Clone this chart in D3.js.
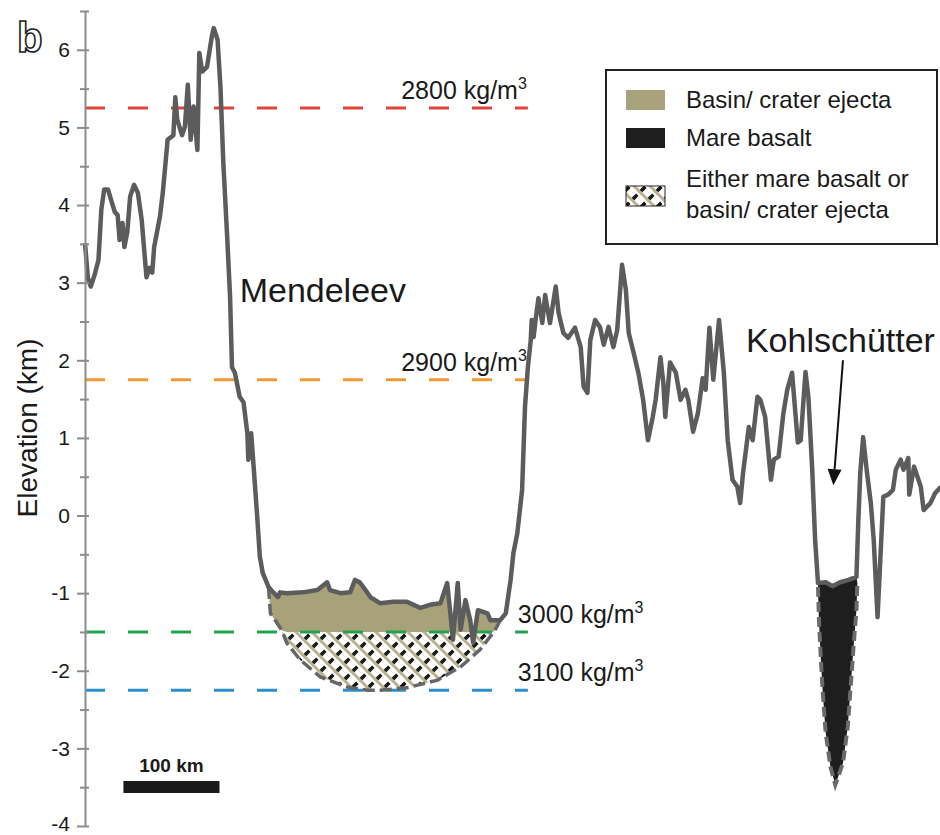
<!DOCTYPE html>
<html>
<head>
<meta charset="utf-8">
<script src="https://cdn.jsdelivr.net/npm/d3@7"></script>
<style>
  body { margin: 0; background: #fff; }
  svg { display: block; }
  text { font-family: "Liberation Sans", Arial, sans-serif; fill: #1a1a1a; }
</style>
</head>
<body>
<svg id="chart" width="940" height="835"></svg>
<script>
// profile along the track: distance (km) and elevation (km)
const distKm = [0,3,6,10,14,17,20,24,28,31,34,36,39,41,44,47,51,55,59,64,67,70,72,78,81,86,92,94,96,101,104,107,110,113,117,119,122,127,132,134,138,141,144,148,151,153,156,161,165,169,170,173,175,179,182,185,191,196,201,203,210,227,242,252,255,266,276,281,286,292,297,307,321,335,349,359,370,377,380,383,388,391,396,401,404,409,419,422,432,438,443,446,450,455,458,461,464,465,467,469,472,476,479,484,490,493,498,503,510,516,519,523,526,531,536,540,545,550,554,559,563,566,571,576,581,586,591,594,599,602,604,609,615,620,625,628,633,638,643,646,650,654,660,665,669,674,679,682,685,691,695,700,703,708,714,717,722,727,731,736,742,745,750,753,757,760,763,771,778,786,795,803,805,807,810,814,818,821,825,828,831,836,841,844,849,852,857,858,863,870,873,880,885,891];
const elevKm = [3.51,3.06,2.95,3.10,3.29,3.94,4.20,4.20,4.03,3.91,3.87,3.55,3.77,3.46,3.65,4.11,4.26,4.16,3.81,3.07,3.19,3.13,3.46,3.85,4.16,4.84,4.90,5.39,5.10,4.90,5.01,5.55,4.84,5.27,4.71,5.96,5.72,5.78,6.17,6.28,6.13,5.52,4.54,3.59,2.82,1.91,1.84,1.53,1.46,1.06,0.72,1.06,0.72,0.03,-0.53,-0.74,-0.92,-0.99,-1.05,-0.99,-1.00,-0.99,-0.96,-0.86,-0.96,-1.00,-0.99,-0.83,-0.86,-0.96,-1.05,-1.13,-1.11,-1.11,-1.19,-1.15,-1.13,-0.87,-1.22,-1.60,-0.87,-1.47,-1.09,-1.35,-1.64,-1.22,-1.26,-1.35,-1.35,-1.26,-0.83,-0.48,-0.23,0.33,1.40,1.91,2.26,2.52,2.30,2.52,2.80,2.48,2.84,2.48,2.95,2.61,2.35,2.29,2.42,2.17,1.66,1.58,2.26,2.52,2.43,2.20,2.43,2.17,2.39,3.23,2.91,2.35,2.10,1.84,1.49,0.97,1.27,1.49,2.04,1.71,1.27,1.97,1.84,1.49,1.62,1.49,1.08,1.32,1.77,1.62,2.42,1.75,2.52,1.84,0.97,0.46,0.37,0.16,0.55,1.14,0.97,1.53,1.49,1.27,0.46,0.72,0.76,1.32,1.62,1.84,0.94,0.97,1.85,1.53,0.59,-0.31,-0.87,-0.86,-0.91,-0.86,-0.83,-0.79,-0.06,0.55,1.01,0.55,0.16,-0.31,-1.31,-0.53,0.24,0.27,0.33,0.59,0.72,0.59,0.74,0.27,0.63,0.37,0.07,0.16,0.29,0.37];

// base of the Mendeleev infill (dashed outline)
const mendBaseDist = [191,193,205,210,224,245,273,294,307,335,367,391,411,425,429,432];
const mendBaseElev = [-0.92,-1.26,-1.48,-1.64,-1.86,-2.08,-2.21,-2.25,-2.25,-2.22,-2.12,-1.95,-1.73,-1.51,-1.43,-1.35];

// base of the Kohlschutter mare basalt
const kohlBaseDist = [763,764,766,768,771,776,781,789,794,797,800,803,804];
const kohlBaseElev = [-0.92,-1.35,-1.86,-2.29,-2.80,-3.24,-3.47,-3.19,-2.72,-2.21,-1.69,-1.22,-0.87];

// density levels
const densityLevels = [5.25, 1.75, -1.5, -2.25];
const densityNames = ["2800", "2900", "3000", "3100"];
const densityColors = ["#e2433a", "#f09a34", "#22a24c", "#2c8fcd"];
const densityEnd = 461;
const ejectaTop = -1.5;

const yMajor = [-4, -3, -2, -1, 0, 1, 2, 3, 4, 5, 6];
const yMinor = [-3.5, -2.5, -1.5, -0.5, 0.5, 1.5, 2.5, 3.5, 4.5, 5.5, 6.5];

const legendLabels = [["Basin/ crater ejecta"], ["Mare basalt"], ["Either mare basalt or", "basin/ crater ejecta"]];

const khaki = "#a8a27a";
const hatchKhaki = "#b7b291";
const basalt = "#1e1e1e";
const profileColor = "#5c5c5c";

const svg = d3.select("#chart");
const x = d3.scaleLinear().domain([0, 890]).range([85, 940]);
const y = d3.scaleLinear().domain([-4, 6.5]).range([826, 11]);

const profile = distKm.map((d, i) => [d, elevKm[i]]);
const mendBase = mendBaseDist.map((d, i) => [d, mendBaseElev[i]]);
const kohlBase = kohlBaseDist.map((d, i) => [d, kohlBaseElev[i]]);

const line = d3.line().x(d => x(d[0])).y(d => y(d[1]));

// hatch pattern
const defs = svg.append("defs");
const pat = defs.append("pattern")
  .attr("id", "hatch")
  .attr("patternUnits", "userSpaceOnUse")
  .attr("width", 16).attr("height", 16);
pat.append("rect").attr("width", 16).attr("height", 16).attr("fill", "#fff");
pat.append("path")
  .attr("d", "M-4,4L4,-4M0,16L16,0M12,20L20,12")
  .attr("stroke", "#111").attr("stroke-width", 3.5)
  .attr("stroke-dasharray", "7.5,3.8");
pat.append("path")
  .attr("d", "M-4,12L4,20M0,0L16,16M12,-4L20,4")
  .attr("stroke", hatchKhaki).attr("stroke-width", 3);

// Mendeleev: ejecta fill
const floor = profile.filter(p => p[0] >= mendBaseDist[0] && p[0] <= mendBaseDist[mendBaseDist.length - 1]);
const ejectaPoly = floor.concat(mendBase.slice().reverse().map(p => [p[0], Math.max(p[1], ejectaTop)]));
svg.append("path")
  .attr("d", line(ejectaPoly) + "Z")
  .attr("fill", khaki);

// Mendeleev: uncertain zone
svg.append("path")
  .datum(mendBase)
  .attr("d", d3.area()
    .x(d => x(d[0]))
    .y0(y(ejectaTop))
    .y1(d => y(Math.min(d[1], ejectaTop))))
  .attr("fill", "url(#hatch)");

// Kohlschutter: mare basalt fill
const kFloor = profile.filter(p => p[0] >= kohlBaseDist[0] && p[0] <= kohlBaseDist[kohlBaseDist.length - 1]);
svg.append("path")
  .attr("d", line(kFloor.concat(kohlBase.slice().reverse())) + "Z")
  .attr("fill", basalt);

// density lines
densityLevels.forEach((lev, i) => {
  svg.append("line")
    .attr("x1", x(0)).attr("x2", x(densityEnd))
    .attr("y1", y(lev)).attr("y2", y(lev))
    .attr("stroke", densityColors[i])
    .attr("stroke-width", 3)
    .attr("stroke-dasharray", "20,23");

  const t = svg.append("text")
    .attr("font-size", 25)
    .attr("y", y(lev) - 9);
  if (i < 2) {
    t.attr("x", x(densityEnd) - 1).attr("text-anchor", "end");
  } else {
    t.attr("x", x(densityEnd) - 10);
  }
  t.append("tspan").text(densityNames[i] + " kg/m");
  t.append("tspan").text("3").attr("font-size", 16).attr("dy", -10);
});

// dashed outlines of the infills
svg.append("path")
  .attr("d", line(mendBase))
  .attr("fill", "none")
  .attr("stroke", "#666")
  .attr("stroke-width", 3.5)
  .attr("stroke-dasharray", "12,5");

svg.append("path")
  .attr("d", line(kohlBase))
  .attr("fill", "none")
  .attr("stroke", "#6a6a6a")
  .attr("stroke-width", 4)
  .attr("stroke-dasharray", "10,5");

// profile
svg.append("path")
  .attr("d", line(profile))
  .attr("fill", "none")
  .attr("stroke", profileColor)
  .attr("stroke-width", 4.5)
  .attr("stroke-linejoin", "round");

// y axis
const gMinor = svg.append("g")
  .attr("transform", "translate(" + x(0) + ",0)")
  .call(d3.axisLeft(y).tickValues(yMinor).tickSize(5).tickFormat(""));
const gAxis = svg.append("g")
  .attr("transform", "translate(" + x(0) + ",0)")
  .call(d3.axisLeft(y).tickValues(yMajor).tickSize(8).tickSizeOuter(0).tickPadding(7).tickFormat(d => String(d)));
gMinor.select(".domain").remove();
gMinor.selectAll("line").attr("x1", 4).attr("stroke", "#8c8c8c").attr("stroke-width", 2);
gAxis.select(".domain").attr("stroke", "#8c8c8c").attr("stroke-width", 2);
gAxis.selectAll("line").attr("x1", 4).attr("stroke", "#8c8c8c").attr("stroke-width", 2);
gAxis.selectAll("text")
  .attr("font-size", 21)
  .attr("fill", "#1a1a1a")
  .style("font-family", "'Liberation Sans', Arial, sans-serif");
// keep the bottom label inside the frame
gAxis.selectAll(".tick").filter(d => d == -4).select("text").attr("dy", "0.2em");

svg.append("text")
  .attr("transform", "translate(37,428) rotate(-90)")
  .attr("text-anchor", "middle")
  .attr("font-size", 28)
  .text("Elevation (km)");

// panel letter
svg.append("text")
  .attr("x", 17).attr("y", 52)
  .attr("font-size", 42)
  .attr("font-weight", "bold")
  .style("fill", "#fff")
  .attr("stroke", "#222")
  .attr("stroke-width", 1.6)
  .text("b");

// crater names
svg.append("text")
  .attr("x", x(161)).attr("y", y(2.75))
  .attr("font-size", 34)
  .text("Mendeleev");

svg.append("text")
  .attr("x", x(688)).attr("y", y(2.11))
  .attr("font-size", 34)
  .text("Kohlschütter");

// arrow to Kohlschutter
const a0 = [x(789), y(2.0)], a1 = [x(779), y(0.39)];
const ang = Math.atan2(a1[1] - a0[1], a1[0] - a0[0]);
const headLen = 16, headHalf = 7;
const bx = a1[0] - headLen * Math.cos(ang), by = a1[1] - headLen * Math.sin(ang);
svg.append("line")
  .attr("x1", a0[0]).attr("y1", a0[1]).attr("x2", bx).attr("y2", by)
  .attr("stroke", "#111").attr("stroke-width", 2);
svg.append("path")
  .attr("d", "M" + a1[0] + "," + a1[1] +
    "L" + (bx + headHalf * Math.sin(ang)) + "," + (by - headHalf * Math.cos(ang)) +
    "L" + (bx - headHalf * Math.sin(ang)) + "," + (by + headHalf * Math.cos(ang)) + "Z")
  .attr("fill", "#111");

// scale bar
svg.append("rect")
  .attr("x", x(40)).attr("y", 781)
  .attr("width", x(140) - x(40)).attr("height", 12)
  .attr("fill", "#1a1a1a");
svg.append("text")
  .attr("x", (x(40) + x(140)) / 2).attr("y", 772)
  .attr("text-anchor", "middle")
  .attr("font-size", 19)
  .attr("font-weight", "bold")
  .text("100 km");

// legend
const legend = svg.append("g");
legend.append("rect")
  .attr("x", 606).attr("y", 70)
  .attr("width", 331).attr("height", 174)
  .attr("fill", "#fff")
  .attr("stroke", "#222")
  .attr("stroke-width", 2);

const swatchY = [90, 128, 186];
const swatchFill = [khaki, basalt, "url(#hatch)"];
legendLabels.forEach((lines, i) => {
  legend.append("rect")
    .attr("x", 626).attr("y", swatchY[i])
    .attr("width", 39).attr("height", 20)
    .attr("fill", swatchFill[i])
    .attr("stroke", i == 2 ? "#222" : "none")
    .attr("stroke-width", 1);
  const firstBase = i == 2 ? 187 : swatchY[i] + 18;
  lines.forEach((s, j) => {
    legend.append("text")
      .attr("x", 686).attr("y", firstBase + j * 31)
      .attr("font-size", 24)
      .text(s);
  });
});
</script>
</body>
</html>
